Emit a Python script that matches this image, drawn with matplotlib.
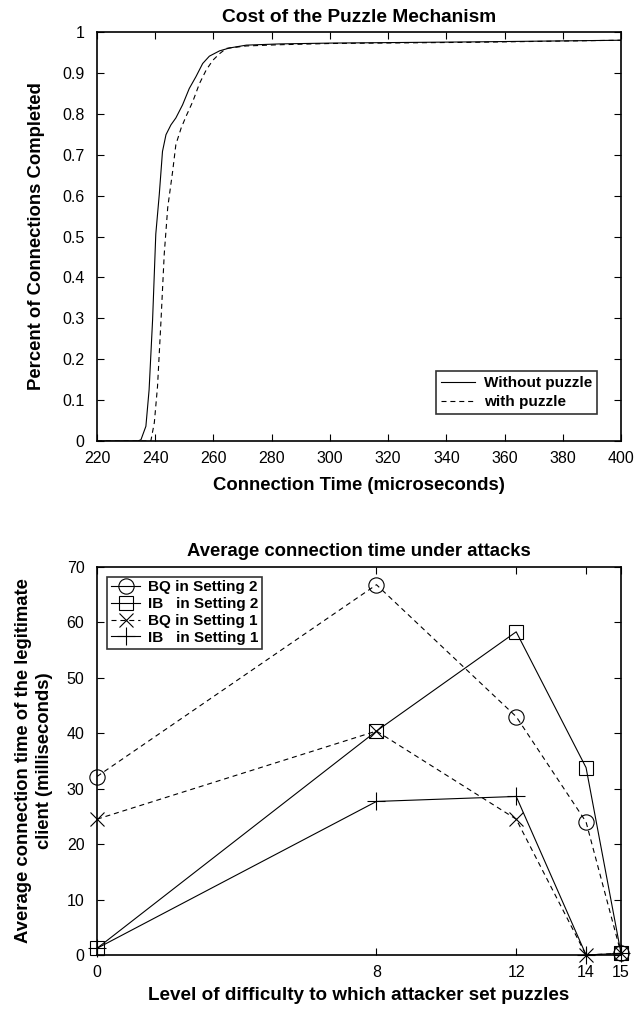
import matplotlib
matplotlib.use("Agg")
import matplotlib.pyplot as plt
from matplotlib.lines import Line2D

plt.rcParams['font.family'] = ['Liberation Sans', 'DejaVu Sans']

# ---- Top chart data: CDF of connection time ----
t_without = [220, 234, 235.1, 236.8, 237.9, 239.1, 240.2, 241.4, 242.5, 243.7, 245.4,
             247.1, 249.4, 251.7, 254.0, 256.3, 258.6, 262.1, 265.5, 271.3, 282.8,
             300, 350, 400]
p_without = [0.0, 0.0, 0.003, 0.036, 0.125, 0.296, 0.506, 0.603, 0.708, 0.749, 0.773,
             0.79, 0.822, 0.862, 0.891, 0.923, 0.941, 0.954, 0.961, 0.968, 0.971,
             0.973, 0.976, 0.98]
t_with = [220, 238.5, 239.7, 240.8, 242.0, 243.1, 244.3, 246.0, 247.1, 248.9, 250.6,
          252.9, 255.2, 257.5, 259.8, 262.1, 264.4, 271.3, 282.8, 300, 350, 400]
p_with = [0.0, 0.0, 0.045, 0.134, 0.296, 0.457, 0.571, 0.66, 0.725, 0.765, 0.794,
          0.83, 0.874, 0.907, 0.931, 0.947, 0.96, 0.966, 0.969, 0.972, 0.975, 0.98]

# ---- Bottom chart data ----
levels = [0, 8, 12, 14, 15]
bq_s2 = [32.2, 66.8, 43.0, 24.0, 0.3]
ib_s2 = [1.2, 40.4, 58.3, 33.8, 0.3]
bq_s1 = [24.5, 40.4, 24.5, 0.0, 0.3]
ib_s1 = [1.2, 27.7, 28.6, 0.0, 0.3]

top_xticks = list(range(220, 401, 20))
top_yticks = [0, 0.1, 0.2, 0.3, 0.4, 0.5, 0.6, 0.7, 0.8, 0.9, 1]
top_yticklabels = ['0', '0.1', '0.2', '0.3', '0.4', '0.5', '0.6', '0.7', '0.8', '0.9', '1']
bot_xticks = [0, 8, 12, 14, 15]
bot_yticks = list(range(0, 71, 10))

fig = plt.figure(figsize=(6.41, 10.11), dpi=100)
ax1 = fig.add_axes([0.1513, 0.5638, 0.8175, 0.4045])
ax2 = fig.add_axes([0.1513, 0.0554, 0.8175, 0.3838])

DASH = (0, (4.5, 3.5))
LW = 0.8
TICK_FS = 11.5
LAB_FS = 13.3
LEG_FS = 11

def style(ax):
    ax.tick_params(direction='in', top=True, right=True, length=5, width=0.8,
                   labelsize=TICK_FS, colors='black')
    ax.tick_params(axis='y', pad=9)
    ax.tick_params(axis='x', pad=7)
    for s in ax.spines.values():
        s.set_linewidth(1.2)
        s.set_color('black')

# Top chart
ax1.plot(t_without, p_without, color='black', lw=LW, label='Without puzzle')
ax1.plot(t_with, p_with, color='black', lw=LW, linestyle=DASH, label='with puzzle')
ax1.set_xlim(220, 400)
ax1.set_ylim(0, 1)
ax1.set_xticks(top_xticks)
ax1.set_yticks(top_yticks)
ax1.set_yticklabels(top_yticklabels)
style(ax1)
ax1.text(0.5, 1 + 10 / 409, 'Cost of the Puzzle Mechanism', transform=ax1.transAxes,
         fontsize=13.8, fontweight='bold', ha='center', va='baseline')
ax1.set_xlabel('Connection Time (microseconds)', fontsize=LAB_FS, fontweight='bold', labelpad=8)
ax1.set_ylabel('Percent of Connections Completed', fontsize=LAB_FS, fontweight='bold', labelpad=12)
leg1 = ax1.legend(loc='lower right', bbox_to_anchor=(0.955, 0.065),
                  prop={'weight': 'bold', 'size': LEG_FS}, frameon=True, fancybox=False,
                  edgecolor='black', borderpad=0.35, handlelength=2.2, handletextpad=0.6,
                  labelspacing=0.3, borderaxespad=0)
leg1.get_frame().set_linewidth(1.2)

# Bottom chart
ms = 11
ax2.plot(levels, bq_s2, color='black', lw=LW, linestyle=DASH, marker='o', ms=ms,
         mfc='none', mew=0.8, clip_on=False, label='BQ in Setting 2')
ax2.plot(levels, ib_s2, color='black', lw=LW, marker='s', ms=ms - 1,
         mfc='none', mew=0.8, clip_on=False, label='IB   in Setting 2')
ax2.plot(levels, bq_s1, color='black', lw=LW, linestyle=DASH, marker='x', ms=ms - 1,
         mfc='none', mew=0.8, clip_on=False, label='BQ in Setting 1')
ax2.plot(levels, ib_s1, color='black', lw=LW, marker='+', ms=ms + 2,
         mfc='none', mew=0.8, clip_on=False, label='IB   in Setting 1')
ax2.set_xlim(0, 15)
ax2.set_ylim(0, 70)
ax2.set_xticks(bot_xticks)
ax2.set_yticks(bot_yticks)
style(ax2)
ax2.text(0.5, 1 + 11 / 388, 'Average connection time under attacks', transform=ax2.transAxes,
         fontsize=LAB_FS, fontweight='bold', ha='center', va='baseline')
ax2.set_xlabel('Level of difficulty to which attacker set puzzles', fontsize=13.6,
               fontweight='bold', labelpad=5)
ax2.set_ylabel('Average connection time of the legitimate\nclient (milliseconds)',
               fontsize=LAB_FS, fontweight='bold', labelpad=10, linespacing=1.3)
handles = [
    Line2D([], [], color='black', lw=LW, marker='o', ms=ms, mfc='none', mew=0.8),
    Line2D([], [], color='black', lw=LW, marker='s', ms=ms - 1, mfc='none', mew=0.8),
    Line2D([], [], color='black', lw=LW, linestyle=DASH, marker='x', ms=ms - 1, mew=0.8),
    Line2D([], [], color='black', lw=LW, marker='+', ms=ms + 2, mew=0.8),
]
labels = ['BQ in Setting 2', 'IB   in Setting 2', 'BQ in Setting 1', 'IB   in Setting 1']
leg2 = ax2.legend(handles, labels, loc='upper left', bbox_to_anchor=(0.02, 0.975),
                  prop={'weight': 'bold', 'size': LEG_FS}, frameon=True, fancybox=False,
                  edgecolor='black', borderpad=0.25, handlelength=1.9, handletextpad=0.5,
                  labelspacing=0.18, borderaxespad=0)
leg2.get_frame().set_linewidth(1.2)

fig.savefig('out.png', dpi=100)
